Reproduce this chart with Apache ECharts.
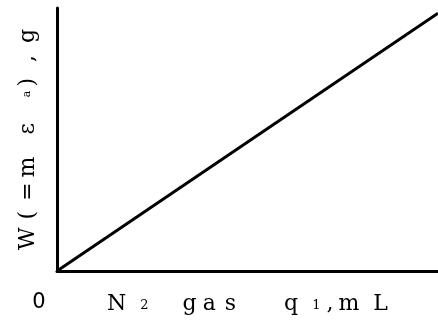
<!DOCTYPE html>
<html>
<head>
<meta charset="utf-8">
<script src="https://cdn.jsdelivr.net/npm/echarts@6/dist/echarts.min.js"></script>
<style>
  html, body { margin: 0; padding: 0; background: #fff; }
  #chart { width: 438px; height: 325px; }
</style>
</head>
<body>
<div id="chart"></div>
<script>
// N2 gas volume q1 (mL) against weight W (g): straight line through the origin
const gasVolume = [0, 100];
const weight = [0, 98];
const xTickLabels = ['0'];

const lineData = gasVolume.map((q, i) => [q, weight[i]]);
const serif = 'DejaVu Serif';

// one rich-text style per glyph so the wide letter spacing can be set by padding
function glyph(size, gapRight, raise) {
  return {
    fontFamily: serif, fontSize: size, color: '#000',
    lineHeight: size + 4,
    verticalAlign: 'bottom',
    padding: [0, gapRight, raise || 0, 0]
  };
}

const xName = '{n|N}{n2|2}{g|g}{a|a}{s|s}{q|q}{q1|1}{c|,}{m|m}{l|L}';
const xRich = {
  n: glyph(22, 14), n2: glyph(13, 34, 3),
  g: glyph(22, 6), a: glyph(22, 9), s: glyph(22, 48),
  q: glyph(22, 14), q1: glyph(13, 6, 3), c: glyph(22, 5),
  m: glyph(22, 14), l: glyph(22, 0)
};

const yName = '{w|W}{p1|(}{eq|=}{m|m}{e|ε}{a|a}{p2|)}{c|,}{g|g}';
const yRich = {
  w: glyph(22, 8), p1: glyph(22, 10), eq: glyph(22, 5),
  m: glyph(22, 22), e: glyph(22, 26), a: glyph(11, 4, 6),
  p2: glyph(22, 16), c: glyph(22, 12), g: glyph(22, 0)
};

const chart = echarts.init(document.getElementById('chart'), null, { renderer: 'canvas' });
chart.setOption({
  animation: false,
  grid: { left: 57, right: 0, top: 8, bottom: 54, outerBoundsMode: 'none', containLabel: false },
  xAxis: {
    type: 'value',
    min: 0, max: 100, interval: 100,
    axisLine: { show: true, lineStyle: { color: '#000', width: 3 } },
    axisTick: { show: false },
    splitLine: { show: false },
    axisLabel: {
      showMinLabel: true,
      showMaxLabel: false,
      margin: 21,
      padding: [0, 36, 0, 0],
      fontFamily: 'DejaVu Sans',
      fontSize: 21,
      color: '#000',
      formatter: v => (v === 0 ? xTickLabels[0] : '')
    },
    name: xName,
    nameLocation: 'middle',
    nameGap: 18,
    nameMoveOverlap: false,
    nameTextStyle: { rich: xRich }
  },
  yAxis: {
    type: 'value',
    min: 0, max: 100,
    axisLine: { show: true, lineStyle: { color: '#000', width: 3 } },
    axisTick: { show: false },
    splitLine: { show: false },
    axisLabel: { show: false },
    name: yName,
    nameLocation: 'middle',
    nameRotate: 90,
    nameGap: 18,
    nameMoveOverlap: false,
    nameTextStyle: { rich: yRich }
  },
  series: [{
    type: 'line',
    data: lineData,
    showSymbol: false,
    lineStyle: { color: '#000', width: 3 }
  }]
});
</script>
</body>
</html>
